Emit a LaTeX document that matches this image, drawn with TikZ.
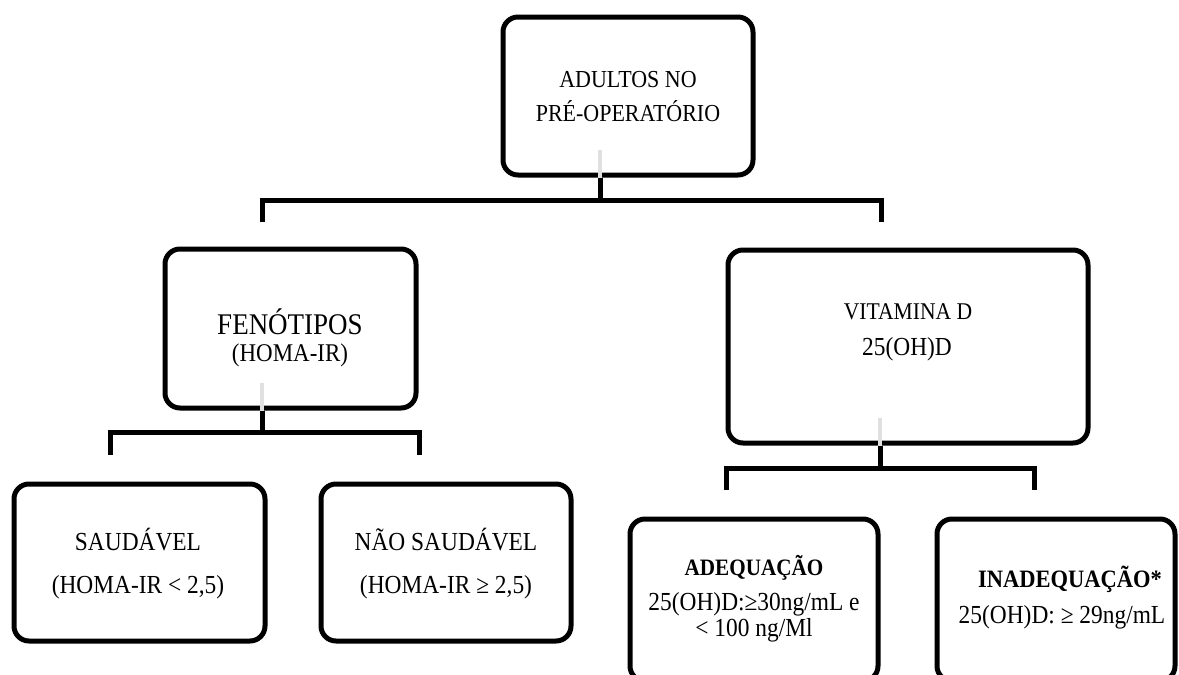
\documentclass[tikz,border=0pt]{standalone}
\usepackage{fontspec}
\setmainfont[FakeStretch=0.9]{Liberation Serif}
\begin{document}
\begin{tikzpicture}[x=1pt,y=-1pt,
  box/.style={draw=black,line width=5pt,rounded corners=15pt,inner sep=0pt,fill=white},
  conn/.style={draw=black,line width=5pt,line join=miter},
  stub/.style={draw=black!12,line width=4.5pt},
  txt/.style={anchor=base,inner sep=0pt}]
\useasboundingbox (0,0) rectangle (1179,675);
\clip (0,0) rectangle (1179,675);
\fill[white] (0,0) rectangle (1179,675);
% boxes
\node[box,minimum width=250pt,minimum height=158pt] (top) at (628,96) {};
\node[box,minimum width=251pt,minimum height=159pt] (fen) at (290.5,328.5) {};
\node[box,minimum width=360pt,minimum height=193pt] (vit) at (908,346.5) {};
\node[box,minimum width=251pt,minimum height=157pt] (sau) at (139.5,562.5) {};
\node[box,minimum width=250pt,minimum height=157pt] (nao) at (446,562.5) {};
\node[box,minimum width=248pt,minimum height=162pt] (ade) at (754,600) {};
\node[box,minimum width=238pt,minimum height=162pt] (ina) at (1056,600) {};
% junction coordinates
\coordinate (t0) at (600,150);
\coordinate (tj) at (600,200);
\coordinate (tl) at (262,200);
\coordinate (tr) at (881,200);
\coordinate (tle) at (262,222);
\coordinate (tre) at (881,222);
\coordinate (f0) at (262,383);
\coordinate (fj) at (262,432);
\coordinate (fl) at (110,432);
\coordinate (fr) at (419,432);
\coordinate (fle) at (110,455);
\coordinate (fre) at (419,455);
\coordinate (v0) at (880,418);
\coordinate (vj) at (880,468);
\coordinate (vl) at (726,468);
\coordinate (vr) at (1034,468);
\coordinate (vle) at (726,490);
\coordinate (vre) at (1034,490);
% stubs
\draw[stub] (t0) -- (top.south -| t0);
\draw[stub] (f0) -- (fen.south -| f0);
\draw[stub] (v0) -- (vit.south -| v0);
% connectors
\draw[conn] (top.south -| tj) -- (tj);
\draw[conn] (tle) -- (tl) -- (tr) -- (tre);
\draw[conn] (fen.south -| fj) -- (fj);
\draw[conn] (fle) -- (fl) -- (fr) -- (fre);
\draw[conn] (vit.south -| vj) -- (vj);
\draw[conn] (vle) -- (vl) -- (vr) -- (vre);
% texts
\node[txt,font=\fontsize{24.4}{28}\selectfont] (t1) at (628,87) {ADULTOS NO};
\node[txt,font=\fontsize{24.4}{28}\selectfont] (t2) at (628,121) {PRÉ-OPERATÓRIO};
\node[txt,font=\fontsize{30}{34}\selectfont] (f1) at (290,334) {FENÓTIPOS};
\node[txt,font=\fontsize{25.5}{30}\selectfont] (f2) at (290,361) {(HOMA-IR)};
\node[txt,font=\fontsize{24}{28}\selectfont] (v1) at (908,319) {VITAMINA D};
\node[txt,font=\fontsize{26}{30}\selectfont] (v2) at (907,355) {25(OH)D};
\node[txt,font=\fontsize{26}{30}\selectfont] (s1) at (138,550) {SAUDÁVEL};
\node[txt,font=\fontsize{26}{30}\selectfont] (s2) at (138,593) {(HOMA-IR < 2,5)};
\node[txt,font=\fontsize{26}{30}\selectfont] (n1) at (446,550) {NÃO SAUDÁVEL};
\node[txt,font=\fontsize{26}{30}\selectfont] (n2) at (446,593) {(HOMA-IR ≥ 2,5)};
\node[txt,font=\fontsize{23.5}{28}\selectfont\bfseries] (a1) at (754,575) {ADEQUAÇÃO};
\node[txt,font=\fontsize{26}{30}\selectfont] (a2) at (754,610) {25(OH)D:≥30ng/mL e};
\node[txt,font=\fontsize{26}{30}\selectfont] (a3) at (754,636) {< 100 ng/Ml};
\node[txt,font=\fontsize{25}{29}\selectfont\bfseries] (i1) at (1070,587) {INADEQUAÇÃO*};
\node[txt,font=\fontsize{26}{30}\selectfont] (i2) at (1062,623) {25(OH)D: ≥ 29ng/mL};
\end{tikzpicture}
\end{document}
